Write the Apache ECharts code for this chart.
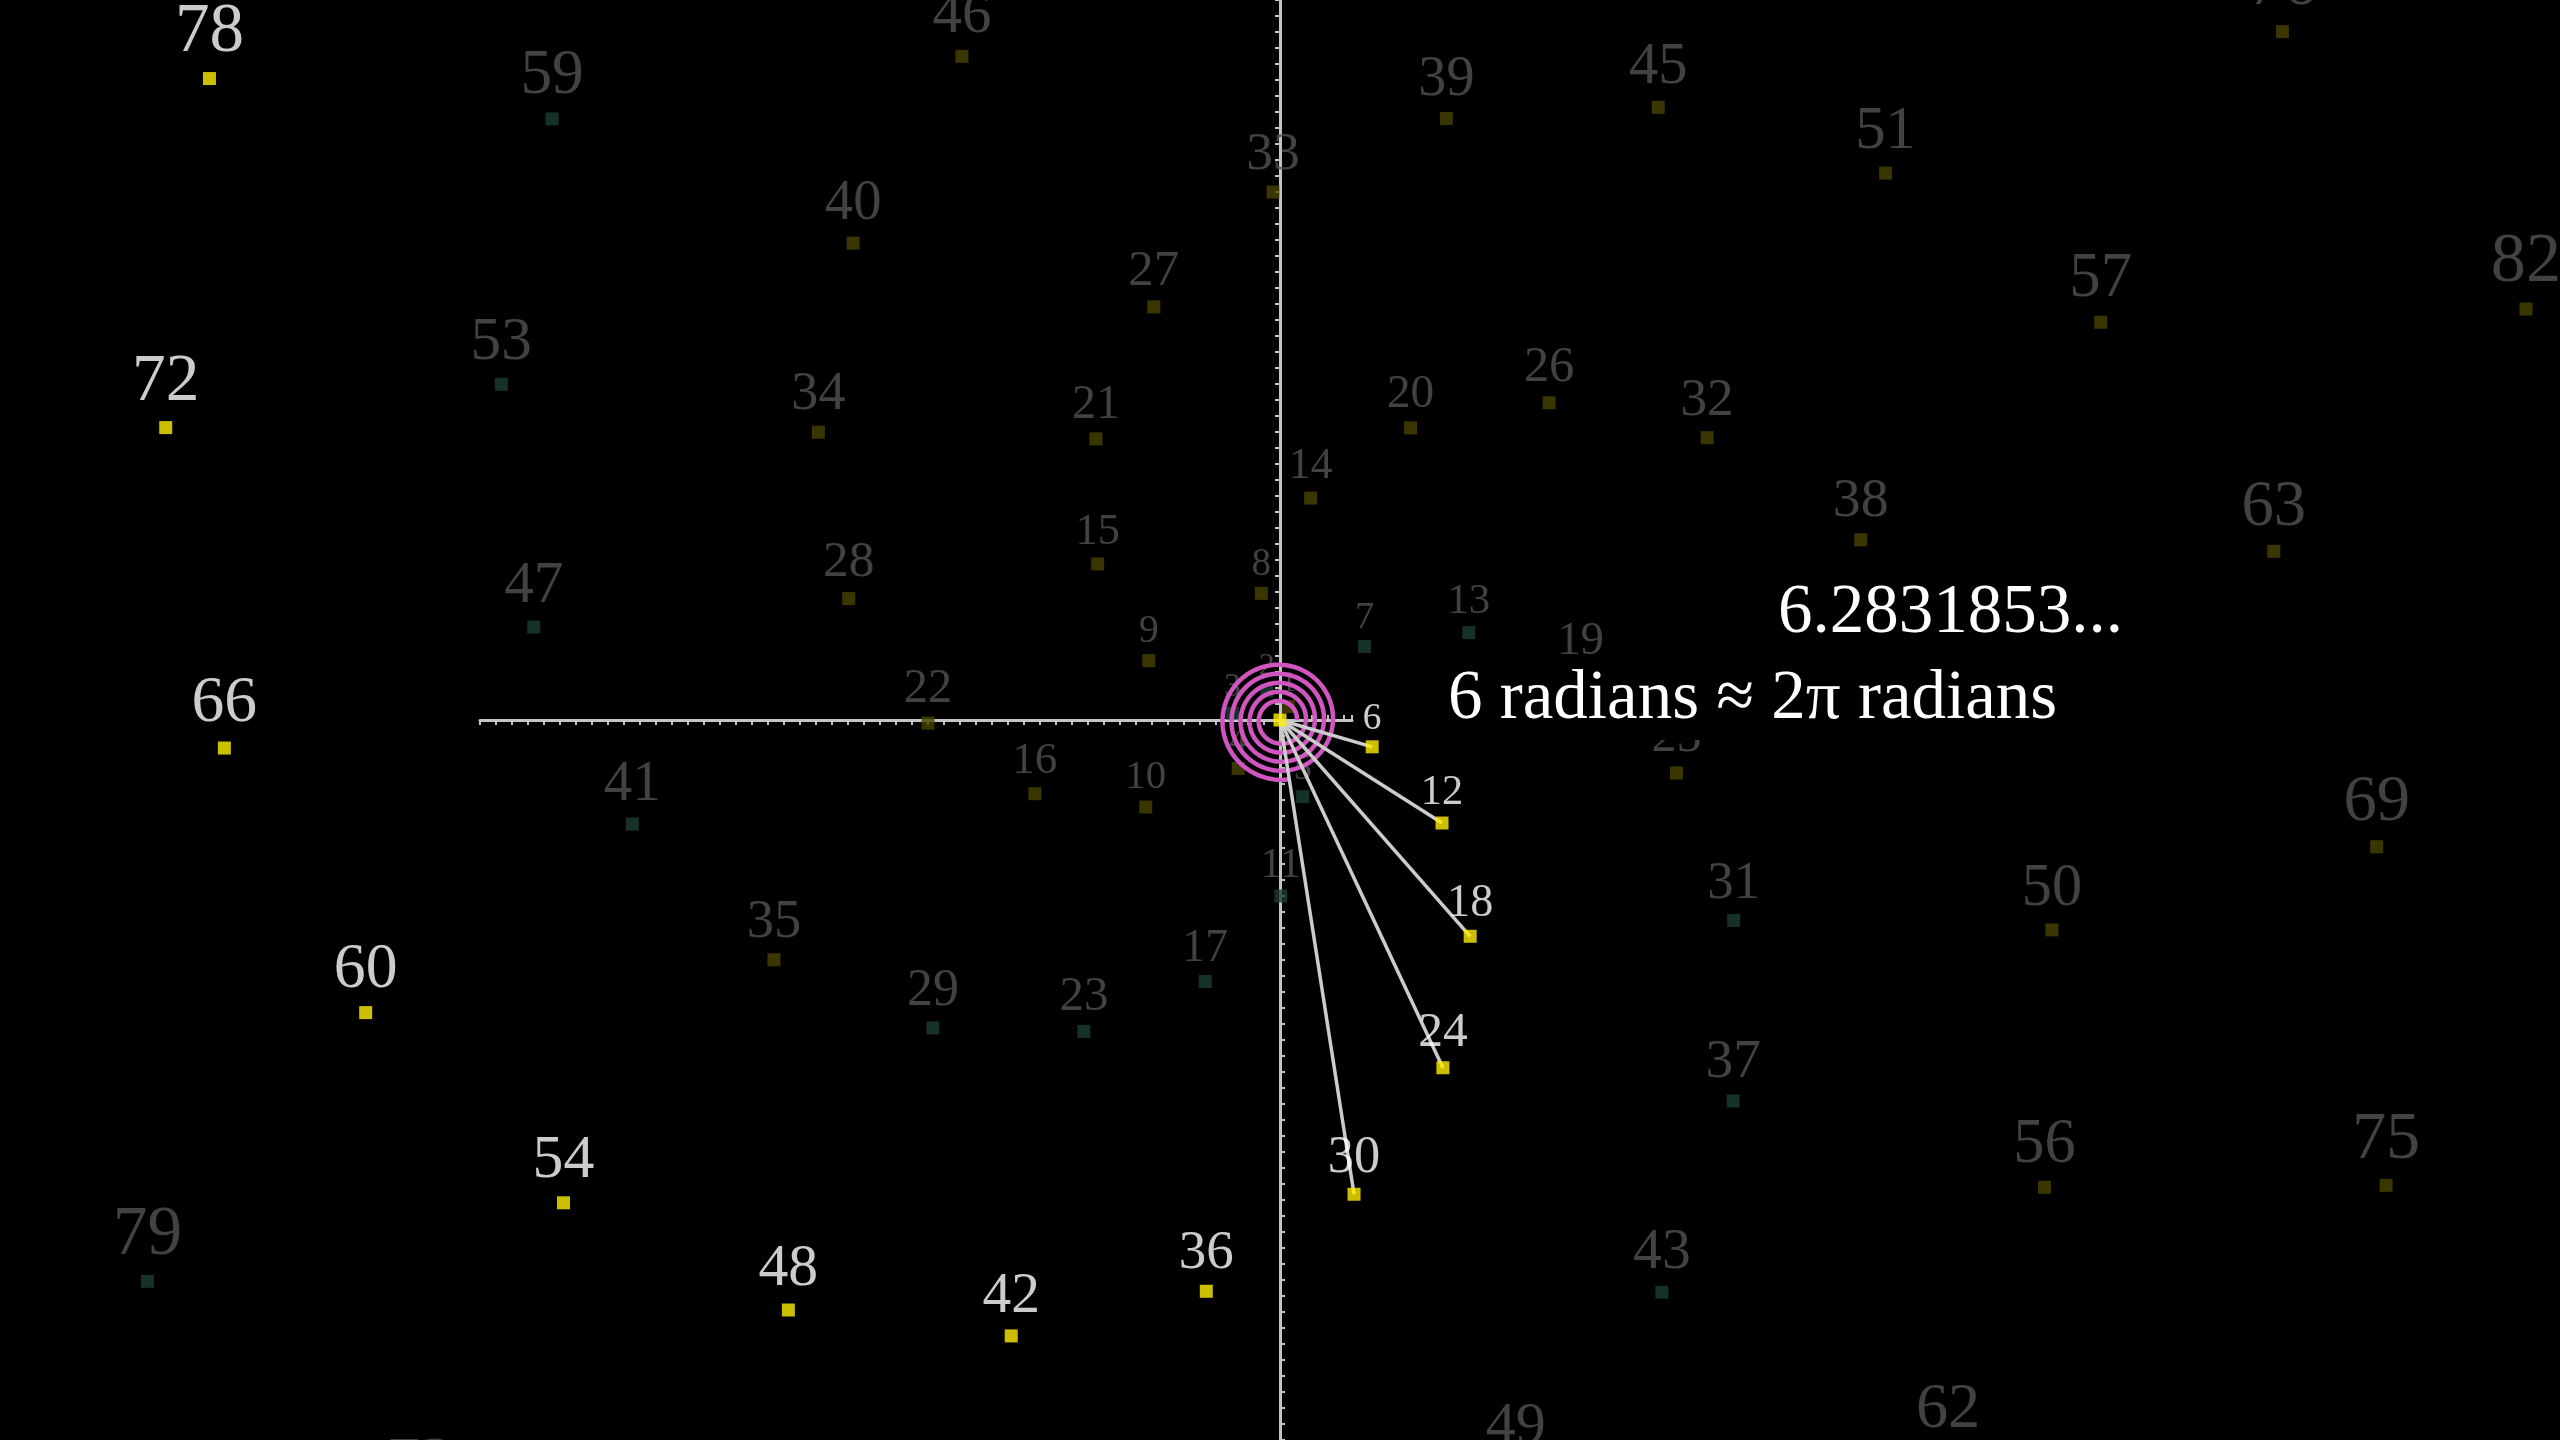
<!DOCTYPE html>
<html>
<head>
<meta charset="utf-8">
<title>6 radians</title>
<script src="https://cdn.jsdelivr.net/npm/echarts@6/dist/echarts.min.js"></script>
<style>
html,body{margin:0;padding:0;background:#000;}
#main{width:2560px;height:1440px;}
</style>
</head>
<body>
<div id="main"></div>
<script>
// every integer n is drawn at radius n, angle n radians
var numbers = [0,1,2,3,4,5,6,7,8,9,10,11,12,13,14,15,16,17,18,19,20,21,22,23,24,25,26,27,28,29,30,
  31,32,33,34,35,36,37,38,39,40,41,42,43,44,45,46,47,48,49,50,51,52,53,54,55,56,57,58,59,60,
  61,62,63,64,65,66,67,68,69,70,71,72,73,74,75,76,77,78,79,80,81,82,83,84,85,86,87,88,89,90];
var primes = [2,3,5,7,11,13,17,19,23,29,31,37,41,43,47,53,59,61,67,71,73,79,83,89];
var sixes = [0,6,12,18,24,30,36,42,48,54,60,66,72,78,84,90];
var spokes = [6,12,18,24,30];
var spiralSweep = [30];
var captions = ['6.2831853...', '6 radians \u2248 2\u03c0 radians'];

var UNIT = 16;      // px per unit of radius
var R_MAX = 100;
var FONT = 'Liberation Serif';

function labelFor(n, color){
  var fs = 25 + 5 * Math.sqrt(n);
  return {
    show: n !== 0,
    color: color,
    fontSize: fs,
    lineHeight: fs,
    distance: fs * 0.07
  };
}

var dimData = [];
var brightData = [];
numbers.forEach(function(n){
  if (sixes.indexOf(n) >= 0) {
    brightData.push({value: [n, n], itemStyle: {color: '#ffee00'}, label: labelFor(n, '#ffffff')});
  } else {
    var isPrime = primes.indexOf(n) >= 0;
    dimData.push({value: [n, n], itemStyle: {color: isPrime ? '#1c3d35' : '#4a4400'}, label: labelFor(n, '#525252')});
  }
});

// polar systems: 0 = points, 1..4 = the axis arms (up, down, left, right)
var arms = [
  {start: 90,  len: 45},
  {start: 270, len: 45},
  {start: 180, len: 50},
  {start: 0,   len: 4.5}
];

var polar = [{center: ['50%', '50%'], radius: R_MAX * UNIT}];
var angleAxis = [{polarIndex: 0, type: 'value', min: 0, max: 2 * Math.PI, startAngle: 0, clockwise: false, show: false}];
var radiusAxis = [{polarIndex: 0, type: 'value', min: 0, max: R_MAX, show: false}];
arms.forEach(function(a, i){
  polar.push({center: ['50%', '50%'], radius: a.len * UNIT});
  angleAxis.push({polarIndex: i + 1, type: 'value', min: 0, max: 360, startAngle: a.start, show: false,
    splitLine: {show: false}});
  radiusAxis.push({
    polarIndex: i + 1, type: 'value', min: 0, max: a.len, interval: 1, z: 1,
    axisLine: {show: true, lineStyle: {color: '#c4c4c4', width: 3}},
    axisTick: {show: true, length: 5, lineStyle: {color: '#c4c4c4', width: 2}},
    axisLabel: {show: false},
    splitLine: {show: false}
  });
});

var series = [];
series.push({
  type: 'scatter', coordinateSystem: 'polar', polarIndex: 0, z: 2, clip: false, silent: true,
  symbol: 'rect', symbolSize: 13,
  label: {show: true, position: 'top', fontFamily: FONT, formatter: function(p){ return p.value[0]; }},
  data: dimData
});
series.push({
  type: 'custom', coordinateSystem: 'polar', polarIndex: 0, z: 3, silent: true, clip: false,
  data: spiralSweep.map(function(s){ return [s, s]; }),
  renderItem: function(params, api){
    var sweep = api.value(0);
    var pts = [];
    for (var a = 0; a <= sweep; a += 0.04) {
      pts.push(api.coord([1.05 + 0.09 * a, a]));
    }
    return {type: 'polyline', shape: {points: pts}, style: {stroke: '#d155bf', lineWidth: 4.5, fill: null}};
  }
});
spokes.forEach(function(n){
  series.push({
    type: 'line', coordinateSystem: 'polar', polarIndex: 0, z: 4, silent: true,
    showSymbol: false, symbol: 'none',
    lineStyle: {color: '#cccccc', width: 3.5},
    data: [[0, 0], [n, n]]
  });
});
series.push({
  type: 'scatter', coordinateSystem: 'polar', polarIndex: 0, z: 5, clip: false, silent: true,
  symbol: 'rect', symbolSize: 13,
  label: {show: true, position: 'top', fontFamily: FONT, formatter: function(p){ return p.value[0]; }},
  data: brightData
});

var capStyle = {color: '#ffffff', fontFamily: FONT, fontSize: 69, fontWeight: 'normal', lineHeight: 69};
var option = {
  backgroundColor: '#000000',
  animation: false,
  title: [
    {text: captions[0], left: 1774, top: 573, padding: [6, 4, 18, 4], backgroundColor: '#000', textStyle: capStyle},
    {text: captions[1], left: 1444, top: 657, padding: [8, 4, 6, 4], backgroundColor: '#000', textStyle: capStyle}
  ],
  polar: polar,
  angleAxis: angleAxis,
  radiusAxis: radiusAxis,
  series: series
};

var myChart = echarts.init(document.getElementById('main'));
myChart.setOption(option);
</script>
</body>
</html>
